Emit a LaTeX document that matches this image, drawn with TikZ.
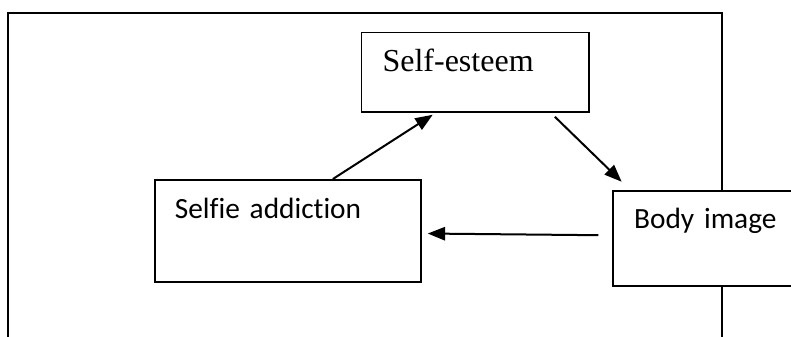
\documentclass[tikz,border=0pt]{standalone}
\usepackage{fontspec}
\newfontfamily\serifface{Liberation Serif}
\newfontfamily\sansface{Carlito}[Ligatures=NoCommon]
\usetikzlibrary{arrows.meta}
\begin{document}
\begin{tikzpicture}[x=0.75pt,y=-0.75pt,
	box/.style={draw,fill=white,line width=1.3pt,anchor=north west,align=left,inner ysep=0pt},
	arr/.style={line width=1.5pt,-{Triangle[length=13pt,width=10pt]}}]
	\useasboundingbox (0,0) rectangle (791,336);
	\clip (0,0) rectangle (791,336);
	\draw [line width=1.5pt] (8,13) rectangle (721.7,360);
	\node [box,inner xsep=15.75pt,text width=139.2pt,text height=29.5pt,text depth=30pt,font=\serifface\fontsize{24}{28}\selectfont] at (360.7,31.7) (se) {Self-esteem};
	\node [box,inner xsep=15pt,text width=169.5pt,text height=29pt,text depth=47.5pt,font=\sansface\fontsize{22}{26}\selectfont] at (154,179) (sa) {Selfie addiction};
	\node [box,inner xsep=15.75pt,text width=133.5pt,text height=28.3pt,text depth=43.2pt,font=\sansface\fontsize{22}{26}\selectfont] at (612.3,190) (bi) {Body image};
	\draw [arr] ([xshift=33.75pt]sa.north) -- ([xshift=-32pt,yshift=-1.5pt]se.south);
	\draw [arr] ([xshift=59.6pt,yshift=-3pt]se.south) -- ([xshift=7pt,yshift=6.2pt]bi.north west);
	\draw [arr] ([xshift=-10.5pt,yshift=2.5pt]bi.west) -- ([xshift=4.5pt,yshift=-2pt]sa.east);
\end{tikzpicture}
\end{document}
